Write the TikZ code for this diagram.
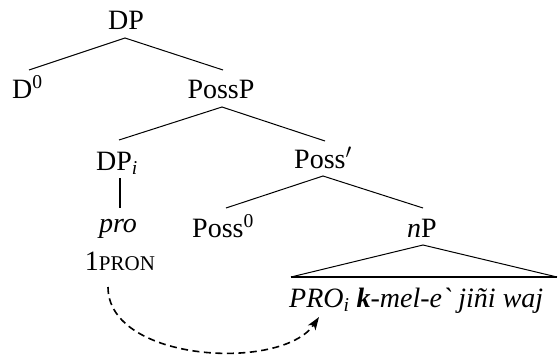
\documentclass[tikz,border=0pt]{standalone}
\usepackage{fontspec}
\setmainfont{Liberation Serif}
\usetikzlibrary{arrows.meta}
\begin{document}
\begin{tikzpicture}[x=1pt,y=-1pt,
  lab/.style={inner sep=0pt, font=\fontsize{28}{33}\selectfont},
  br/.style={line width=1pt},
  thickbr/.style={line width=1.8pt},
  mv/.style={line width=1.6pt, dash pattern=on 7pt off 4.5pt, -{Stealth[length=13pt,width=9pt,inset=3.5pt]}}]
\useasboundingbox (0,0) rectangle (559,361);
% labels
\node[lab, anchor=base] (dp) at (126,30) {DP};
\node[lab, anchor=base west] (d0) at (12,98) {D\textsuperscript{0}};
\node[lab, anchor=base] (possp) at (221,98) {PossP};
\node[lab, anchor=base west] (dpi) at (96,170) {DP\textsubscript{\textit{i}}};
\node[lab, anchor=base west] (possbar) at (294,168) {Poss$'$};
\node[lab, anchor=base] (pro) at (118,232) {\textit{pro}};
\node[lab, anchor=base] (pron) at (120,270) {1{\fontsize{21}{24}\selectfont PRON}};
\node[lab, anchor=base west] (poss0) at (192,237) {Poss\textsuperscript{0}};
\node[lab, anchor=base west] (np) at (407,237) {\textit{n}P};
\node[lab, anchor=base west] (str) at (289,307) {\textit{PRO\textsubscript{i} \textbf{k}-mel-e\textasciigrave\ jiñi waj}};
% branch points
\coordinate (dpB) at (125,38);
\coordinate (d0T) at (29,70);
\coordinate (posspT) at (223,70);
\coordinate (posspB) at (222,107);
\coordinate (dpiT) at (119,140);
\coordinate (possbarT) at (325,141);
\coordinate (dpiB) at (120,178);
\coordinate (proT) at (120,208);
\coordinate (possbarB) at (323,176);
\coordinate (poss0T) at (226,208);
\coordinate (npT) at (423,208);
\coordinate (npB) at (423,245);
\coordinate (triL) at (291,277);
\coordinate (triR) at (557,277);
\coordinate (arS) at (108,287);
\coordinate (arE) at (319,317);
% branches
\draw[br] (d0T) -- (dpB) -- (posspT);
\draw[br] (dpiT) -- (posspB) -- (possbarT);
\draw[thickbr] (dpiB) -- (proT);
\draw[br] (poss0T) -- (possbarB) -- (npT);
\draw[br] (triL) -- (npB) -- (triR);
\draw[thickbr] (triL) -- (triR);
% movement arrow
\draw[mv] (arS) .. controls (108,362) and (282,372) .. (arE);
\end{tikzpicture}
\end{document}
